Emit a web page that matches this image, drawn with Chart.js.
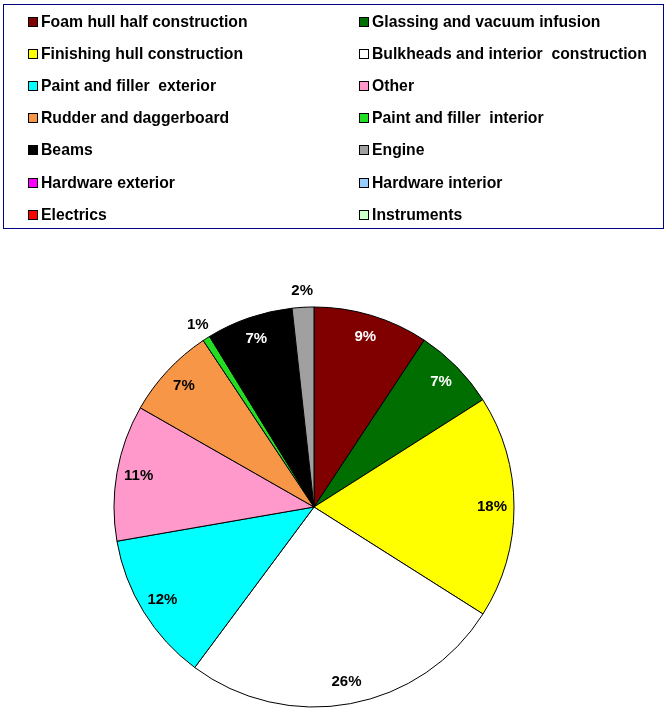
<!DOCTYPE html>
<html>
<head>
<meta charset="utf-8">
<script src="https://cdn.jsdelivr.net/npm/chart.js@4.4.1/dist/chart.umd.min.js"></script>
<style>
  html, body { margin: 0; padding: 0; background: #fff; }
  #wrap { position: relative; width: 671px; height: 720px; overflow: hidden; }
  #c { position: absolute; left: 0; top: 0; }
  #legend { position: absolute; left: 3px; top: 4px; width: 661px; height: 225px; border: 1px solid #000080; box-sizing: border-box;
            font-family: "Liberation Sans", Arial, sans-serif; font-weight: bold; font-size: 15.75px; color: #000; }
  .item { position: absolute; height: 20px; line-height: 20px; white-space: pre; }
  .sw { position: absolute; left: 0; top: 5px; width: 8px; height: 8px; border: 1px solid #000; }
  .tx { position: absolute; left: 13px; top: 0; }
</style>
</head>
<body>
<div id="wrap">
  <canvas id="c" width="671" height="720"></canvas>
  <div id="legend"></div>
</div>
<script>
const categories = [
  "Foam hull half construction", "Glassing and vacuum infusion",
  "Finishing hull construction", "Bulkheads and interior  construction",
  "Paint and filler  exterior", "Other",
  "Rudder and daggerboard", "Paint and filler  interior",
  "Beams", "Engine",
  "Hardware exterior", "Hardware interior",
  "Electrics", "Instruments"
];
const shares = [9.3, 6.7, 18.0, 26.2, 12.1, 11.0, 7.4, 0.6, 7.0, 1.75, 0, 0, 0, 0];
const colors = [
  "#800000", "#006E00",
  "#FFFF00", "#FFFFFF",
  "#00FFFF", "#FF99CC",
  "#F79646", "#22DD22",
  "#000000", "#A0A0A0",
  "#FF00FF", "#99CCFF",
  "#FF0000", "#CCFFCC"
];
const labelColors = ["#fff", "#fff", "#000", "#000", "#000", "#000", "#000", "#000", "#fff", "#000", "#000", "#000", "#000", "#000"];

// HTML legend (two columns, row-major)
const legend = document.getElementById('legend');
categories.forEach((name, i) => {
  const col = i % 2, row = Math.floor(i / 2);
  const d = document.createElement('div');
  d.className = 'item';
  d.style.left = (col === 0 ? 24 : 355) + 'px';
  d.style.top = (7 + row * 32.1) + 'px';
  const sw = document.createElement('span');
  sw.className = 'sw';
  sw.style.background = colors[i];
  const tx = document.createElement('span');
  tx.className = 'tx';
  tx.textContent = name;
  d.appendChild(sw); d.appendChild(tx);
  legend.appendChild(d);
});

const pieLabels = {
  id: 'pieLabels',
  afterDatasetsDraw(chart) {
    const ctx = chart.ctx;
    const meta = chart.getDatasetMeta(0);
    const data = chart.data.datasets[0].data;
    const total = data.reduce((a, b) => a + b, 0);
    ctx.save();
    ctx.font = 'bold 15px "Liberation Sans", Arial, sans-serif';
    ctx.textAlign = 'center';
    ctx.textBaseline = 'middle';
    meta.data.forEach((arc, i) => {
      const v = data[i];
      if (!v) return;
      const pct = v / total * 100;
      const mid = (arc.startAngle + arc.endAngle) / 2;
      let r, col;
      if (pct < 3) { r = arc.outerRadius + 16; col = '#000'; }
      else { r = arc.outerRadius * 0.89; col = labelColors[i]; }
      const x = arc.x + Math.cos(mid) * r;
      const y = arc.y + Math.sin(mid) * r;
      ctx.fillStyle = col;
      ctx.fillText(Math.round(pct) + '%', x, y);
    });
    ctx.restore();
  }
};

new Chart(document.getElementById('c'), {
  type: 'pie',
  data: {
    labels: categories,
    datasets: [{
      data: shares,
      backgroundColor: colors,
      borderColor: '#000',
      borderWidth: 1
    }]
  },
  options: {
    responsive: false,
    animation: false,
    radius: 200,
    layout: { padding: { left: 0, right: 43, top: 294, bottom: 0 } },
    plugins: { legend: { display: false }, tooltip: { enabled: false } },
    events: []
  },
  plugins: [pieLabels]
});
</script>
</body>
</html>
